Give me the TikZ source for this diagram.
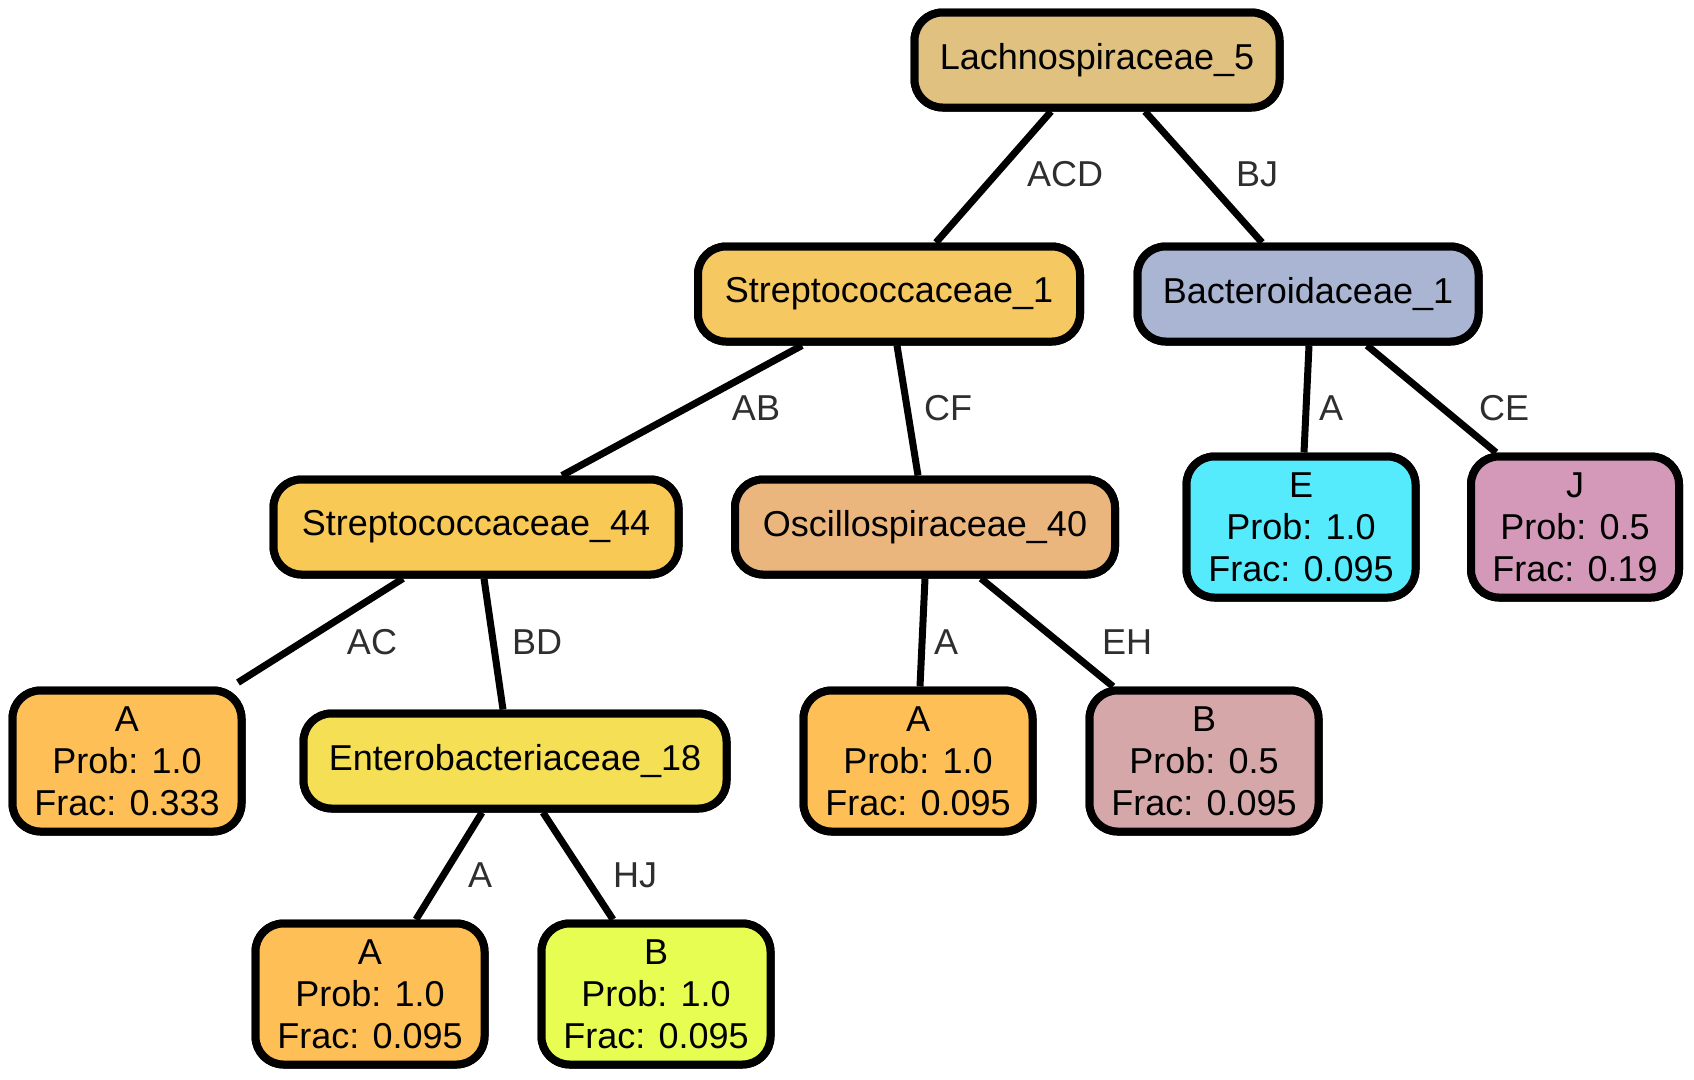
\documentclass[tikz,border=0pt]{standalone}
\usepackage{fontspec}
\setmainfont{Liberation Sans}
\begin{document}
\begin{tikzpicture}[x=1pt,y=-1pt,
  tnode/.style={draw=black, line width=8pt, rounded corners=28pt, inner sep=0pt,
    align=center, font=\fontsize{36}{42}\selectfont},
  famnode/.style={tnode, minimum height=95pt},
  leafnode/.style={tnode, minimum width=229pt, minimum height=141pt},
  edge/.style={draw=black, line width=7pt},
  elabel/.style={text=black!82, font=\fontsize{36}{42}\selectfont, inner sep=0pt}]
\useasboundingbox (0,0) rectangle (1694,1079);
\definecolor{cL}{HTML}{E1C17F}
\definecolor{cSa}{HTML}{F5C862}
\definecolor{cBa}{HTML}{A9B5D3}
\definecolor{cSb}{HTML}{F8C955}
\definecolor{cO}{HTML}{EBB67E}
\definecolor{cE}{HTML}{55EBFD}
\definecolor{cJ}{HTML}{D498B8}
\definecolor{cA}{HTML}{FDBF56}
\definecolor{cEn}{HTML}{F5DF55}
\definecolor{cBb}{HTML}{D6A7A8}
\definecolor{cBc}{HTML}{E8FD52}

% family nodes
\node[famnode, fill=cL,  minimum width=365pt] (l5)  at (1097,60)  {Lachnospiraceae\_5};
\node[famnode, fill=cSa, minimum width=382pt] (s1)  at (889,294)  {Streptococcaceae\_1};
\node[famnode, fill=cBa, minimum width=341pt] (b1)  at (1308,294) {Bacteroidaceae\_1};
\node[famnode, fill=cSb, minimum width=405pt] (s44) at (476,527)  {Streptococcaceae\_44};
\node[famnode, fill=cO,  minimum width=380pt] (o40) at (925,527)  {Oscillospiraceae\_40};
\node[famnode, fill=cEn, minimum width=423pt] (e18) at (515,761)  {Enterobacteriaceae\_18};

% leaf nodes
\node[leafnode, fill=cE] (le)  at (1301,527) {E\\Prob: 1.0\\Frac: 0.095};
\node[leafnode, fill=cJ, minimum width=208pt] (lj)  at (1575,527) {J\\Prob: 0.5\\Frac: 0.19};
\node[leafnode, fill=cA] (la1) at (127,761)  {A\\Prob: 1.0\\Frac: 0.333};
\node[leafnode, fill=cA] (la2) at (918,761)  {A\\Prob: 1.0\\Frac: 0.095};
\node[leafnode, fill=cBb] (lb2) at (1204,761) {B\\Prob: 0.5\\Frac: 0.095};
\node[leafnode, fill=cA] (la3) at (370,994)  {A\\Prob: 1.0\\Frac: 0.095};
\node[leafnode, fill=cBc] (lb3) at (656,994) {B\\Prob: 1.0\\Frac: 0.095};

% connectors
\path[edge] ([xshift=-46pt]l5.south) -- ([xshift=47pt]s1.north);
\path[edge] ([xshift=48pt]l5.south) -- ([xshift=-46pt]b1.north);
\path[edge] ([xshift=-87pt]s1.south) -- ([xshift=86pt]s44.north);
\path[edge] ([xshift=8pt]s1.south) -- ([xshift=-7pt]o40.north);
\path[edge] ([xshift=1pt]b1.south) -- ([xshift=3pt]le.north);
\path[edge] ([xshift=59pt]b1.south) -- ([xshift=-79pt]lj.north);
\path[edge] ([xshift=-73pt]s44.south) -- ([xshift=111pt,yshift=4pt]la1.north);
\path[edge] ([xshift=8pt]s44.south) -- ([xshift=-12pt]e18.north);
\path[edge] ([xshift=0pt]o40.south) -- ([xshift=2pt]la2.north);
\path[edge] ([xshift=56pt]o40.south) -- ([xshift=-91pt]lb2.north);
\path[edge] ([xshift=-33pt]e18.south) -- ([xshift=46pt]la3.north);
\path[edge] ([xshift=28pt]e18.south) -- ([xshift=-43pt]lb3.north);

% nodes drawn again over the connector ends
\node[famnode, fill=cL,  minimum width=365pt] at (l5)  {Lachnospiraceae\_5};
\node[famnode, fill=cSa, minimum width=382pt] at (s1)  {Streptococcaceae\_1};
\node[famnode, fill=cBa, minimum width=341pt] at (b1)  {Bacteroidaceae\_1};
\node[famnode, fill=cSb, minimum width=405pt] at (s44) {Streptococcaceae\_44};
\node[famnode, fill=cO,  minimum width=380pt] at (o40) {Oscillospiraceae\_40};
\node[famnode, fill=cEn, minimum width=423pt] at (e18) {Enterobacteriaceae\_18};
\node[leafnode, fill=cE] at (le)  {E\\Prob: 1.0\\Frac: 0.095};
\node[leafnode, fill=cJ, minimum width=208pt] at (lj) {J\\Prob: 0.5\\Frac: 0.19};
\node[leafnode, fill=cA] at (la1) {A\\Prob: 1.0\\Frac: 0.333};
\node[leafnode, fill=cA] at (la2) {A\\Prob: 1.0\\Frac: 0.095};
\node[leafnode, fill=cBb] at (lb2) {B\\Prob: 0.5\\Frac: 0.095};
\node[leafnode, fill=cA] at (la3) {A\\Prob: 1.0\\Frac: 0.095};
\node[leafnode, fill=cBc] at (lb3) {B\\Prob: 1.0\\Frac: 0.095};

% connector labels
\node[elabel] (tACD) at (1065,174) {ACD};
\node[elabel] (tBJ)  at (1257,174) {BJ};
\node[elabel] (tAB)  at (756,408)  {AB};
\node[elabel] (tCF)  at (948,408)  {CF};
\node[elabel] (tA1)  at (1331,408) {A};
\node[elabel] (tCE)  at (1504,408) {CE};
\node[elabel] (tAC)  at (372,642)  {AC};
\node[elabel] (tBD)  at (537,642)  {BD};
\node[elabel] (tA2)  at (946,642)  {A};
\node[elabel] (tEH)  at (1127,642) {EH};
\node[elabel] (tA3)  at (480,875)  {A};
\node[elabel] (tHJ)  at (635,875)  {HJ};
\end{tikzpicture}
\end{document}
